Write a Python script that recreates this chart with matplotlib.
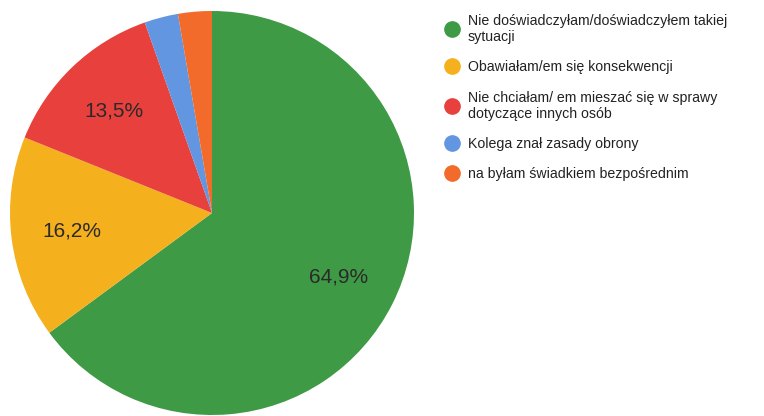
import matplotlib.pyplot as plt
from matplotlib.lines import Line2D

plt.rcParams["font.family"] = ["Liberation Sans", "DejaVu Sans"]

LABELS: list[str] = [
    "Nie doświadczyłam/doświadczyłem takiej\nsytuacji",
    "Obawiałam/em się konsekwencji",
    "Nie chciałam/ em mieszać się w sprawy\ndotyczące innych osób",
    "Kolega znał zasady obrony",
    "na byłam świadkiem bezpośrednim",
]
VALUES: list[float] = [64.9, 16.2, 13.5, 2.7, 2.7]
COLORS: list[str] = ["#3f9a45", "#f5b01d", "#e8403d", "#6296e0", "#f26b2b"]


def pct(p: float) -> str:
    return f"{p:.1f}%".replace(".", ",") if p > 5 else ""


fig = plt.figure(figsize=(7.64, 4.16), dpi=100)
ax = fig.add_axes([10 / 764, 1 / 416, 404 / 764, 404 / 416])

wedges, texts, autotexts = ax.pie(
    VALUES, colors=COLORS, startangle=90, counterclock=False,
    autopct=pct, pctdistance=0.7, radius=1,
    textprops={"fontsize": 15, "color": "#2a2a2a"},
)
ax.set_xlim(-1, 1)
ax.set_ylim(-1, 1)
ax.set_aspect("equal")
ax.axis("off")

handles = [
    Line2D([], [], marker="o", linestyle="", markersize=11,
           markerfacecolor=c, markeredgecolor=c)
    for c in COLORS
]
fig.legend(
    handles, LABELS, loc="upper left", bbox_to_anchor=(431 / 764, 1 - 1 / 416),
    frameon=False, fontsize=10.2, handletextpad=0.5, labelspacing=1.15,
    handlelength=1.2, labelcolor="#222222",
)

fig.savefig("out.png", dpi=100)
